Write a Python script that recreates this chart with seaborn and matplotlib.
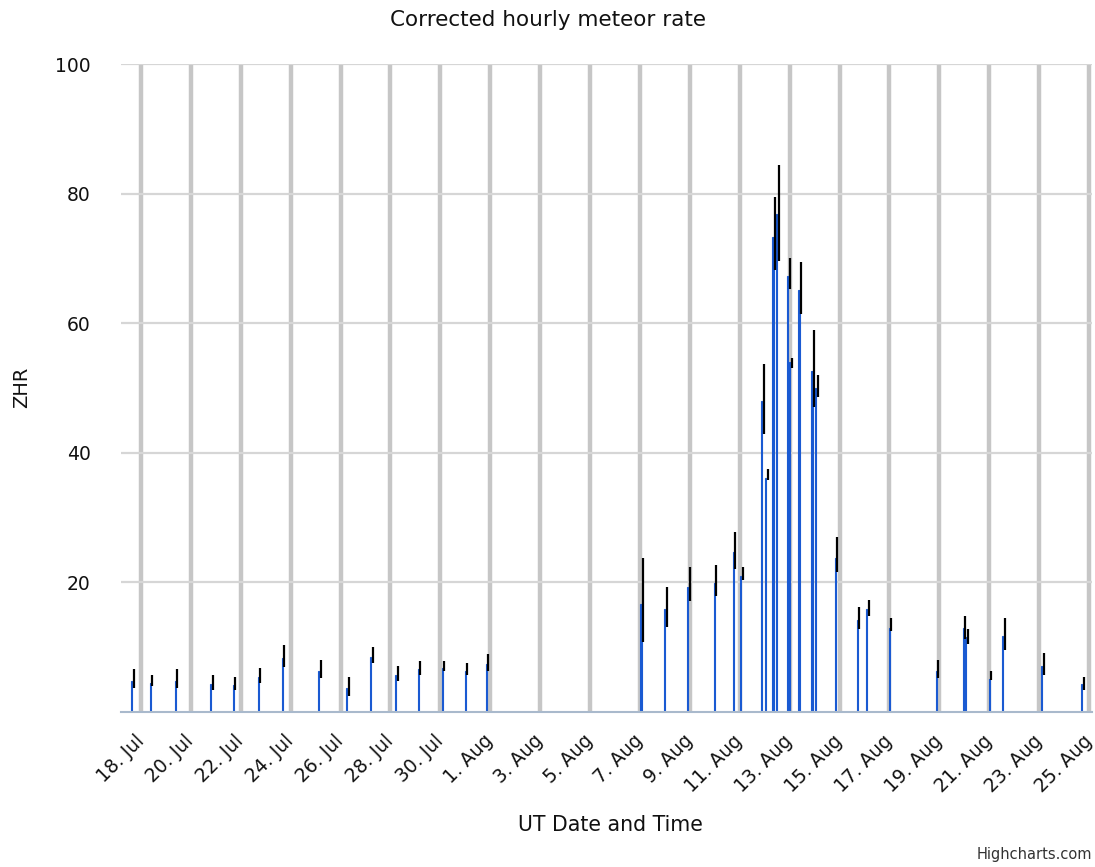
import pandas as pd
import numpy as np
import matplotlib
matplotlib.use('Agg')
import matplotlib.pyplot as plt
import seaborn as sns

# --- style ---
sns.set_style('white')
plt.rcParams['font.family'] = ['DejaVu Sans']

# --- data (UT time of each hourly bin, ZHR and its error range) ---
times = [
    '2013-07-17 15:00', '2013-07-18 09:00', '2013-07-19 09:00', '2013-07-20 19:00',
    '2013-07-21 17:00', '2013-07-22 17:00', '2013-07-23 16:00', '2013-07-25 03:00',
    '2013-07-26 06:00', '2013-07-27 05:00', '2013-07-28 05:00', '2013-07-29 03:00',
    '2013-07-30 02:00', '2013-07-31 00:00', '2013-07-31 20:00',
    '2013-08-07 01:00', '2013-08-08 00:00', '2013-08-08 22:00', '2013-08-09 23:30',
    '2013-08-10 18:00', '2013-08-11 01:00', '2013-08-11 21:00', '2013-08-12 01:00',
    '2013-08-12 08:00', '2013-08-12 11:30', '2013-08-12 22:00', '2013-08-13 00:15',
    '2013-08-13 09:00', '2013-08-13 21:30', '2013-08-14 01:00', '2013-08-14 20:00',
    '2013-08-15 17:00', '2013-08-16 02:00', '2013-08-17 00:00', '2013-08-18 21:00',
    '2013-08-19 23:00', '2013-08-20 01:30', '2013-08-21 00:00', '2013-08-21 13:00',
    '2013-08-23 02:30', '2013-08-24 17:00',
]
zhr = [
    4.8, 4.5, 4.8, 4.2, 4.1, 5.4, 8.25, 6.3, 3.6, 8.5, 5.7, 6.55, 6.7, 6.3, 7.4,
    16.6, 15.8, 19.3, 19.9, 24.6, 20.9, 48.0, 36.1, 73.3, 76.8, 67.2, 54.0,
    65.1, 52.6, 50.0, 23.7, 14.1, 15.8, 12.9, 6.3, 12.9, 11.5, 5.0, 11.7, 7.1, 4.2,
]
zhr_low = [
    3.7, 4.0, 3.7, 3.35, 3.35, 4.5, 6.85, 5.15, 2.5, 7.5, 4.8, 5.7, 6.3, 5.7, 6.3,
    10.7, 13.0, 17.1, 17.9, 22.1, 20.4, 42.8, 35.8, 68.2, 69.6, 65.2, 53.0,
    61.4, 47.1, 48.6, 21.5, 12.7, 14.8, 12.4, 5.2, 11.3, 10.4, 4.9, 9.5, 5.7, 3.35,
]
zhr_high = [
    6.55, 5.7, 6.55, 5.6, 5.3, 6.8, 10.3, 8.0, 5.4, 10.0, 7.1, 7.9, 7.9, 7.5, 8.9,
    23.7, 19.3, 22.3, 22.6, 27.8, 22.3, 53.7, 37.5, 79.4, 84.4, 70.1, 54.6,
    69.5, 59.0, 52.0, 27.0, 16.1, 17.3, 14.4, 8.0, 14.7, 12.7, 6.3, 14.4, 9.1, 5.4,
]
y_ticks = [20, 40, 60, 80, 100]

df = pd.DataFrame({'time': pd.to_datetime(times), 'zhr': zhr,
                   'low': zhr_low, 'high': zhr_high})
tick_dates = pd.date_range('2013-07-18', '2013-08-25', freq='2D')

# --- figure ---
W, H = 1095, 867
fig = plt.figure(figsize=(W / 100, H / 100), dpi=100)
ax = fig.add_axes([121 / W, 1 - 711.7 / H, (1092 - 121) / W, (711.7 - 64) / H])

bar_color = '#1a5ad2'
ax.bar(df['time'], df['zhr'], width=0.045, color=bar_color,
       edgecolor=bar_color, linewidth=0.8, zorder=3)
# error bars sit a hair to the right of each bar
err_x = df['time'] + pd.Timedelta(hours=1.9)
ax.vlines(err_x, df['low'], df['high'], color='black', lw=1.6, zorder=4)

# axes
x0 = pd.Timestamp('2013-07-18') - pd.Timedelta(days=0.80)
x1 = pd.Timestamp('2013-07-18') + pd.Timedelta(days=38.12)
ax.set_xlim(x0, x1)
ax.set_ylim(0, 100)
ax.set_yticks(y_ticks)
ax.set_xticks(tick_dates)
ax.set_xticklabels([f'{d.day}. {d.strftime("%b")}' for d in tick_dates],
                   rotation=45, ha='right', va='center', rotation_mode='anchor')

ax.set_axisbelow(True)
ax.xaxis.grid(True, color='#c6c6c6', lw=3.2, zorder=0)
ax.yaxis.grid(True, color='#d6d6d6', lw=1.6, zorder=0)

for s in ['top', 'right', 'left']:
    ax.spines[s].set_visible(False)
ax.spines['bottom'].set_color('#a9b9cc')
ax.spines['bottom'].set_linewidth(1.5)
ax.spines['bottom'].set_zorder(5)

ax.tick_params(axis='x', direction='out', length=10, width=1, color='#a9b9cc',
               labelsize=13.5, pad=9, labelcolor='#111111')
ax.tick_params(axis='y', length=0, labelsize=13.5, pad=22, labelcolor='#111111')

# titles and labels
fig.text(0.5, 1 - 20 / H, 'Corrected hourly meteor rate', ha='center', va='center',
         fontsize=15.5, color='#111111')
fig.text(610 / W, 1 - 825 / H, 'UT Date and Time', ha='center', va='center',
         fontsize=14.8, color='#111111')
fig.text(22 / W, 1 - 387 / H, 'ZHR', ha='center', va='center', rotation=90,
         fontsize=14, color='#111111')
fig.text(1092 / W, 1 - 855 / H, 'Highcharts.com', ha='right', va='center',
         fontsize=10.5, color='#333333')

fig.savefig('out.png', dpi=100)
